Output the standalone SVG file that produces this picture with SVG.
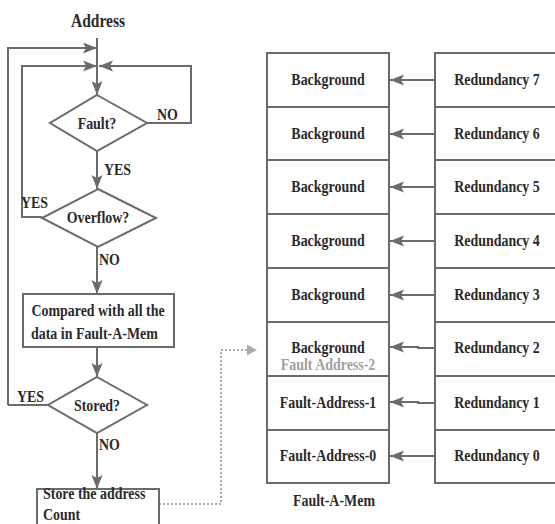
<svg xmlns="http://www.w3.org/2000/svg" width="555" height="524" viewBox="0 0 555 524">
<defs>
<marker id="ah" markerUnits="userSpaceOnUse" markerWidth="16" markerHeight="12" refX="14" refY="5.5" orient="auto">
<path d="M0,0 L14,5.5 L0,11 L3,5.5 z" fill="#6b6b6b"/>
</marker>
<marker id="ahl" markerUnits="userSpaceOnUse" markerWidth="12" markerHeight="12" refX="10" refY="5.5" orient="auto">
<path d="M0,0 L10,5.5 L0,11 z" fill="#aaaaaa"/>
</marker>
<style>
.t{font-family:"Liberation Serif","Times New Roman",serif;font-weight:bold;font-size:17px;fill:#2a2a2a;text-anchor:middle}
.tl{text-anchor:start}
.big{font-size:19px}
.box{fill:#fff;stroke:#6b6b6b;stroke-width:2}
.ln{fill:none;stroke:#6b6b6b;stroke-width:2}
.dot{fill:none;stroke:#aaaaaa;stroke-width:2;stroke-dasharray:2,2}
.ghost{fill:#a0a0a0}
</style>
</defs>
<rect width="555" height="524" fill="#fff"/>

<g id="connectors">
<line class="ln" x1="97" y1="38" x2="97" y2="95" marker-end="url(#ah)"/>
<polyline class="ln" points="8,405 8,48 97,48" marker-end="url(#ah)"/>
<polyline class="ln" points="42,217 22,217 22,66 97,66" marker-end="url(#ah)"/>
<polyline class="ln" points="147,123 191,123 191,66 99,66" marker-end="url(#ah)"/>
<line class="ln" x1="97" y1="151" x2="97" y2="189" marker-end="url(#ah)"/>
<line class="ln" x1="97" y1="247" x2="97" y2="294" marker-end="url(#ah)"/>
<line class="ln" x1="97" y1="347" x2="97" y2="377" marker-end="url(#ah)"/>
<line class="ln" x1="48" y1="405" x2="8" y2="405"/>
<line class="ln" x1="97" y1="433" x2="97" y2="489" marker-end="url(#ah)"/>
<polyline class="dot" points="159,504 221,504 221,350 257,350" marker-end="url(#ahl)"/>
<line class="ln" x1="435" y1="80" x2="390" y2="80" marker-end="url(#ah)"/>
<line class="ln" x1="435" y1="134" x2="390" y2="134" marker-end="url(#ah)"/>
<line class="ln" x1="435" y1="187" x2="390" y2="187" marker-end="url(#ah)"/>
<line class="ln" x1="435" y1="241" x2="390" y2="241" marker-end="url(#ah)"/>
<line class="ln" x1="435" y1="295" x2="390" y2="295" marker-end="url(#ah)"/>
<polyline class="ln" points="435,348 418,348 418,347 390,347" marker-end="url(#ah)"/>
<polyline class="ln" points="435,403 418,403 418,402 390,402" marker-end="url(#ah)"/>
<line class="ln" x1="435" y1="456" x2="390" y2="456" marker-end="url(#ah)"/>
</g>

<g id="address"><text class="t big" transform="translate(98,27) scale(0.82,1)">Address</text></g>

<g id="fault">
<polygon class="box" points="97,95 147,123 97,151 50,123"/>
<text class="t" transform="translate(97,129) scale(0.82,1)">Fault?</text>
<text class="t tl" transform="translate(157,120) scale(0.82,1)">NO</text>
<text class="t tl" transform="translate(104,175) scale(0.82,1)">YES</text>
</g>

<g id="overflow">
<polygon class="box" points="98,189 156,218 98,247 42,218"/>
<text class="t" transform="translate(98,223) scale(0.82,1)">Overflow?</text>
<text class="t tl" transform="translate(21,208) scale(0.82,1)">YES</text>
<text class="t tl" transform="translate(99,265) scale(0.82,1)">NO</text>
</g>

<g id="compare">
<rect class="box" x="23" y="294" width="151" height="53"/>
<text class="t" transform="translate(98,316) scale(0.82,1)">Compared with all the</text>
<text class="t tl" transform="translate(31,339) scale(0.82,1)">data in Fault-A-Mem</text>
</g>

<g id="stored">
<polygon class="box" points="97,377 147,405 97,433 48,405"/>
<text class="t" transform="translate(97,411) scale(0.82,1)">Stored?</text>
<text class="t tl" transform="translate(17,402) scale(0.82,1)">YES</text>
<text class="t tl" transform="translate(99,450) scale(0.82,1)">NO</text>
</g>

<g id="store">
<rect class="box" x="37" y="489" width="122" height="40"/>
<text class="t tl" transform="translate(43,499) scale(0.82,1)">Store the address</text>
<text class="t tl" transform="translate(43,520) scale(0.82,1)">Count</text>
</g>

<g id="faultmem">
<rect class="box" x="267" y="53" width="122" height="54"/>
<text class="t" transform="translate(328,85) scale(0.82,1)">Background</text>
<rect class="box" x="267" y="107" width="122" height="53"/>
<text class="t" transform="translate(328,139) scale(0.82,1)">Background</text>
<rect class="box" x="267" y="160" width="122" height="54"/>
<text class="t" transform="translate(328,192) scale(0.82,1)">Background</text>
<rect class="box" x="267" y="214" width="122" height="54"/>
<text class="t" transform="translate(328,246) scale(0.82,1)">Background</text>
<rect class="box" x="267" y="268" width="122" height="54"/>
<text class="t" transform="translate(328,300) scale(0.82,1)">Background</text>
<rect class="box" x="267" y="322" width="122" height="54"/>
<text class="t" transform="translate(328,353) scale(0.82,1)">Background</text>
<text class="t ghost" transform="translate(328,370) scale(0.82,1)">Fault Address-2</text>
<rect class="box" x="267" y="376" width="122" height="54"/>
<text class="t" transform="translate(328,408) scale(0.82,1)">Fault-Address-1</text>
<rect class="box" x="267" y="430" width="122" height="53"/>
<text class="t" transform="translate(328,461) scale(0.82,1)">Fault-Address-0</text>
<text class="t" transform="translate(334,506) scale(0.82,1)">Fault-A-Mem</text>
</g>

<g id="redundancy">
<rect class="box" x="435" y="53" width="122" height="54"/>
<text class="t" transform="translate(497,85) scale(0.82,1)">Redundancy 7</text>
<rect class="box" x="435" y="107" width="122" height="53"/>
<text class="t" transform="translate(497,139) scale(0.82,1)">Redundancy 6</text>
<rect class="box" x="435" y="160" width="122" height="54"/>
<text class="t" transform="translate(497,192) scale(0.82,1)">Redundancy 5</text>
<rect class="box" x="435" y="214" width="122" height="54"/>
<text class="t" transform="translate(497,246) scale(0.82,1)">Redundancy 4</text>
<rect class="box" x="435" y="268" width="122" height="54"/>
<text class="t" transform="translate(497,300) scale(0.82,1)">Redundancy 3</text>
<rect class="box" x="435" y="322" width="122" height="54"/>
<text class="t" transform="translate(497,353) scale(0.82,1)">Redundancy 2</text>
<rect class="box" x="435" y="376" width="122" height="54"/>
<text class="t" transform="translate(497,408) scale(0.82,1)">Redundancy 1</text>
<rect class="box" x="435" y="430" width="122" height="53"/>
<text class="t" transform="translate(497,461) scale(0.82,1)">Redundancy 0</text>
</g>
</svg>
